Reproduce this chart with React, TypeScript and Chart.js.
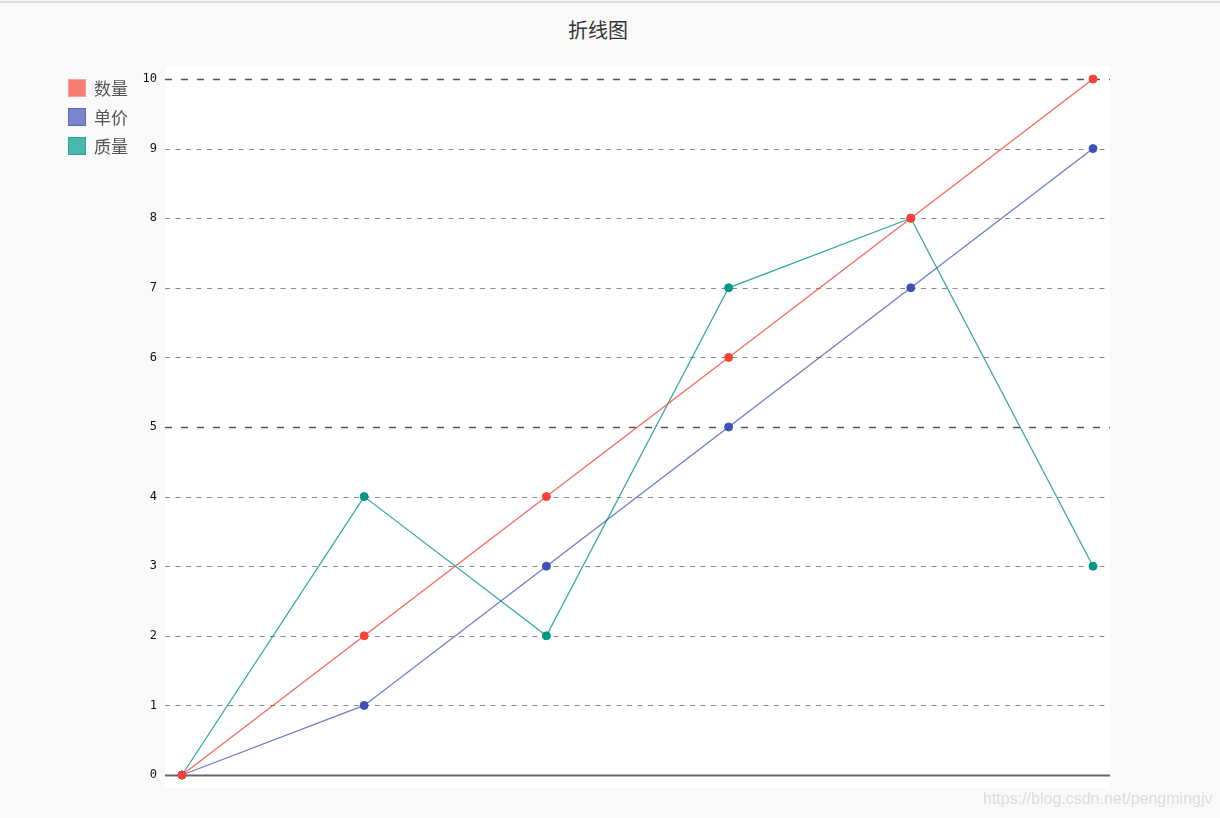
import React, { useEffect, useRef } from "react";
import { Chart, registerables, Plugin } from "chart.js";

Chart.register(...registerables);

// chart data
const categories = ["1", "2", "3", "4", "5", "6"];
const seriesNames = ["数量", "单价", "质量"];
const quantity = [0, 2, 4, 6, 8, 10];
const unitPrice = [0, 1, 3, 5, 7, 9];
const quality = [0, 4, 2, 7, 8, 3];
const yTicks = [0, 1, 2, 3, 4, 5, 6, 7, 8, 9, 10];

const pointColors = ["#f44336", "#3f51b5", "#009688"];
const lineColors = ["rgba(244, 67, 54, 0.8)", "rgba(63, 81, 181, 0.75)", "rgba(0, 150, 136, 0.8)"];
const swatchFill = ["#f77b72", "#7986cb", "#4db6ac"];
const swatchBorder = ["#f9a19a", "#5c6bc0", "#26a69a"];

// white plot background + dashed grid, a little wider than the chart area
const plotBackground: Plugin = {
  id: "plotBackground",
  beforeDraw(chart) {
    const { ctx, chartArea } = chart;
    ctx.save();
    ctx.fillStyle = "#ffffff";
    ctx.fillRect(chartArea.left - 17, chartArea.top - 13, chartArea.width + 34, chartArea.height + 26);
    ctx.restore();
  },
  beforeDatasetsDraw(chart) {
    const { ctx, chartArea } = chart;
    const y = chart.scales.y;
    const x0 = chartArea.left - 17;
    const x1 = chartArea.right + 17;
    ctx.save();
    yTicks.forEach((v) => {
      const py = Math.round(y.getPixelForValue(v)) + 0.5;
      ctx.beginPath();
      if (v === 0) {
        ctx.setLineDash([]);
        ctx.strokeStyle = "#666666";
        ctx.lineWidth = 2;
      } else if (v % 5 === 0) {
        ctx.setLineDash([7, 9]);
        ctx.strokeStyle = "#555555";
        ctx.lineWidth = 1.4;
      } else {
        ctx.setLineDash([5, 5.5]);
        ctx.strokeStyle = "#8a8a8a";
        ctx.lineWidth = 1;
      }
      ctx.moveTo(x0, py);
      ctx.lineTo(x1, py);
      ctx.stroke();
    });
    ctx.restore();
  },
};

export default function App() {
  const canvasRef = useRef<HTMLCanvasElement | null>(null);
  const chartRef = useRef<Chart | null>(null);

  useEffect(() => {
    document.body.style.margin = "0";
    const canvas = canvasRef.current;
    if (!canvas) return;
    if (chartRef.current) chartRef.current.destroy();

    const values = [quantity, unitPrice, quality];

    chartRef.current = new Chart(canvas, {
      type: "line",
      data: {
        labels: categories,
        datasets: seriesNames.map((name, i) => ({
          label: name,
          data: values[i],
          borderColor: lineColors[i],
          borderWidth: 1.3,
          pointRadius: 4,
          pointBorderWidth: 1,
          pointBackgroundColor: pointColors[i],
          pointBorderColor: pointColors[i],
          tension: 0,
          fill: false,
          clip: false as any,
        })),
      },
      options: {
        animation: false,
        responsive: true,
        maintainAspectRatio: false,
        layout: { padding: { left: 0, top: 79, right: 127, bottom: 43 } },
        plugins: {
          legend: { display: false },
          title: { display: false },
          tooltip: { enabled: false },
        },
        scales: {
          x: {
            display: false,
            offset: false,
          },
          y: {
            min: 0,
            max: 10,
            afterFit: (scale: any) => {
              scale.width = 182;
            },
            grid: { display: false, drawTicks: false },
            border: { display: false },
            ticks: {
              stepSize: 1,
              padding: 25,
              color: "#111111",
              font: { family: "DejaVu Sans Mono", size: 12, lineHeight: 1.5 },
            },
          },
        },
      },
      plugins: [plotBackground],
    });

    return () => {
      if (chartRef.current) {
        chartRef.current.destroy();
        chartRef.current = null;
      }
    };
  }, []);

  return (
    <div
      style={{
        position: "relative",
        width: 1220,
        height: 818,
        background: "#f9f9f9",
        overflow: "hidden",
        fontFamily: "'Noto Sans CJK SC', 'Noto Sans', sans-serif",
      }}
    >
      <div style={{ position: "absolute", left: 0, top: 1, width: 1220, height: 2, background: "#dcdce2" }} />
      <div
        style={{
          position: "absolute",
          left: 498,
          top: 16,
          width: 200,
          textAlign: "center",
          fontSize: 20,
          lineHeight: "28px",
          color: "#333333",
        }}
      >
        折线图
      </div>
      <div style={{ position: "absolute", inset: 0 }}>
        <canvas ref={canvasRef} />
      </div>
      <div style={{ position: "absolute", left: 68, top: 79 }}>
        {seriesNames.map((name, i) => (
          <div key={name} style={{ display: "flex", alignItems: "center", height: 18, marginBottom: 11 }}>
            <span
              style={{
                display: "inline-block",
                width: 16,
                height: 16,
                background: swatchFill[i],
                border: `1px solid ${swatchBorder[i]}`,
                marginRight: 8,
              }}
            />
            <span style={{ fontSize: 17, lineHeight: "18px", color: "#555555" }}>{name}</span>
          </div>
        ))}
      </div>
      <div
        style={{
          position: "absolute",
          left: 983,
          top: 789,
          fontFamily: "'Liberation Sans', Arial, sans-serif",
          fontSize: 16,
          lineHeight: "20px",
          color: "#dcdcdc",
        }}
      >
        https://blog.csdn.net/pengmingjv
      </div>
    </div>
  );
}
